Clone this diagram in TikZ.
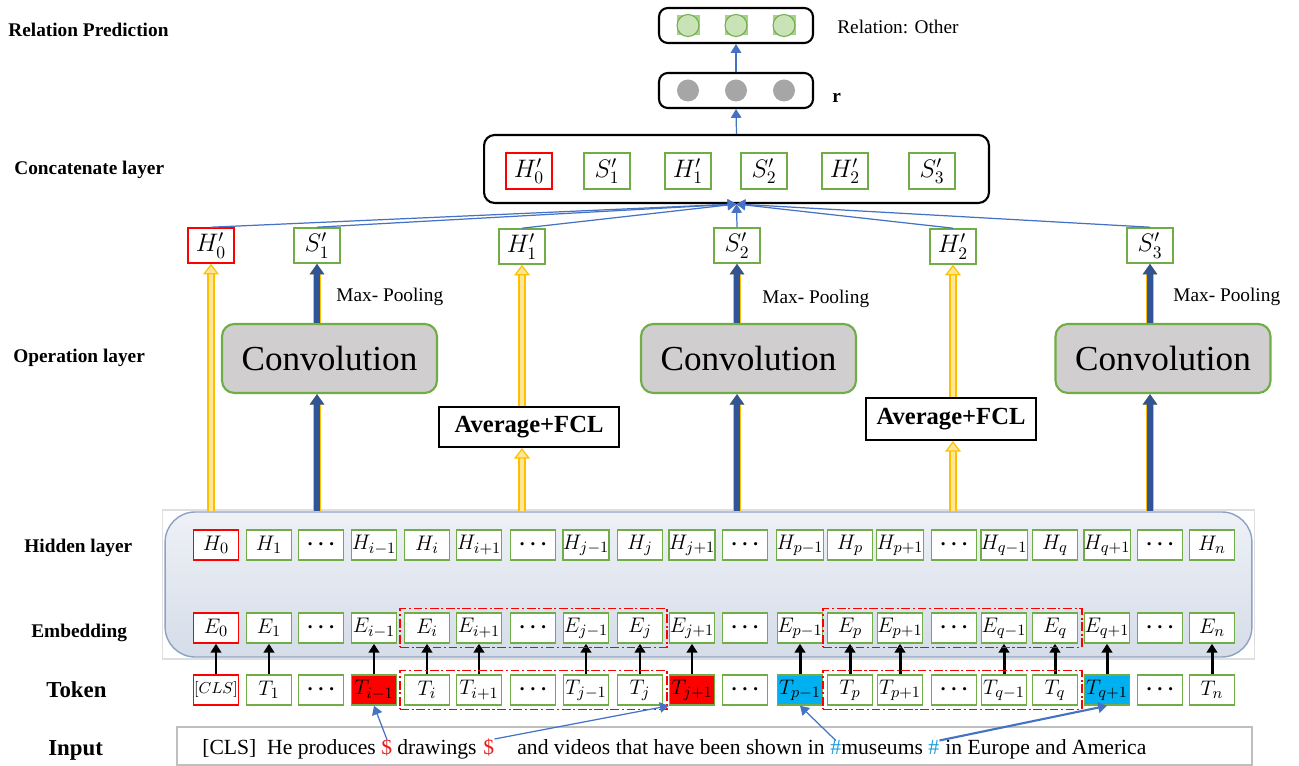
\documentclass[tikz,border=0pt]{standalone}
\usepackage{fontspec}
\setmainfont{Liberation Serif}
\usepackage{bm}
\usetikzlibrary{arrows.meta, positioning, fit, calc}
\definecolor{boxgreen}{HTML}{70AD47}
\definecolor{boxred}{HTML}{FF0000}
\definecolor{tokred}{HTML}{FF0000}
\definecolor{tokcyan}{HTML}{00B0F0}
\definecolor{linkblue}{HTML}{4472C4}
\definecolor{navy}{HTML}{2F5597}
\definecolor{gold}{HTML}{FFC000}
\definecolor{goldsoft}{HTML}{FFE699}
\definecolor{convgray}{HTML}{D0CECE}
\definecolor{paneltop}{HTML}{EEF1F6}
\definecolor{panelbot}{HTML}{D5DDE9}
\definecolor{paneledge}{HTML}{8EA2C4}
\definecolor{dotgray}{HTML}{A6A6A6}
\definecolor{dotgreen}{HTML}{C9E3B6}
\definecolor{sqgreen}{HTML}{A9D18E}
\definecolor{hashblue}{HTML}{1F9BD7}
\definecolor{dollarred}{HTML}{E02020}
\definecolor{inputgray}{HTML}{BFBFBF}

\begin{document}
\begin{tikzpicture}[x=0.02cm, y=-0.02cm,
  cell/.style={draw=boxgreen, line width=0.9pt, fill=white, minimum width=0.9cm,
               minimum height=0.6cm, inner sep=0pt, font=\fontsize{13}{13}\selectfont},
  pbox/.style={cell, minimum width=0.92cm, minimum height=0.72cm, font=\fontsize{14}{14}\selectfont},
  conv/.style={draw=boxgreen, line width=1.2pt, fill=convgray, rounded corners=7pt,
               minimum width=4.3cm, minimum height=1.38cm, font=\fontsize{20}{20}\selectfont},
  avg/.style={draw=black, line width=1.2pt, fill=white, minimum height=0.8cm,
              font=\bfseries\fontsize{14}{14}\selectfont},
  lbl/.style={anchor=west, inner sep=0pt, font=\bfseries\fontsize{11}{13}\selectfont},
  note/.style={anchor=west, inner sep=0pt, font=\fontsize{11}{13}\selectfont},
  word/.style={anchor=base west, inner sep=0pt, font=\fontsize{12.3}{14}\selectfont},
  grp/.style={draw=boxred, line width=0.9pt, dash pattern=on 5pt off 1.5pt on 1.2pt off 1.5pt, inner sep=2pt},
  blk/.style={-{Triangle[length=5pt,width=6pt]}, line width=1.7pt, black},
  link/.style={-{Triangle[length=5pt,width=6pt]}, line width=0.7pt, linkblue},
  barr/.style={-{Triangle[length=6pt,width=8pt]}, line width=3.4pt, navy,
               preaction={draw=gold, line width=4.4pt}},
  yarr/.style={-{Triangle[length=6pt,width=9pt,line width=0.7pt,fill=goldsoft]}, draw=gold,
               line width=0.9pt, double=goldsoft, double distance=2.6pt},
  ball/.style={circle, minimum size=0.44cm, inner sep=0pt}
]
\useasboundingbox (0,0) rectangle (1299,766);

% layer names
\node[lbl] (l1) at (8,30) {Relation Prediction};
\node[lbl] (l2) at (14,170) {Concatenate layer};
\node[lbl] (l3) at (13,358) {Operation layer};
\node[lbl] (l4) at (24,548) {Hidden layer};
\node[lbl] (l5) at (31,633) {Embedding};
\node[lbl, font=\bfseries\fontsize{13}{14}\selectfont] (l6) at (46,690) {Token};
\node[lbl, font=\bfseries\fontsize{13}{14}\selectfont] (l7) at (48,750) {Input};

% prediction
\node[draw, line width=1.2pt, rounded corners=5pt, minimum width=3.08cm, minimum height=0.7cm] (obox) at (736,25.5) {};
\node[draw, line width=1.2pt, rounded corners=5pt, minimum width=3.08cm, minimum height=0.7cm] (rbox) at (736,90.5) {};
\foreach \x [count=\i] in {688,736,784} {
  \node[fill=sqgreen, minimum width=0.46cm, minimum height=0.4cm, inner sep=0pt] (q\i) at (\x,25.5) {};
  \node[ball, draw=boxgreen, fill=dotgreen, line width=0.6pt] (o\i) at (\x,25.5) {};
  \node[ball, fill=dotgray] (g\i) at (\x,90.5) {};
}
\node[note] (rel) at (837,27) {Relation: Other};
\node[note, font=\bfseries\fontsize{11}{13}\selectfont] (rl) at (832,98) {r};
\draw[link] (rbox.north) -- (obox.south);

% concatenate
\node[draw, line width=1.2pt, rounded corners=6pt, minimum width=10.1cm, minimum height=1.36cm] (cat) at (736.5,169) {};
\node[pbox, draw=boxred] (c1) at (529,171) {$H'_0$};
\node[pbox] (c2) at (607,171) {$S'_1$};
\node[pbox] (c3) at (688,171) {$H'_1$};
\node[pbox] (c4) at (764,171) {$S'_2$};
\node[pbox] (c5) at (845,171) {$H'_2$};
\node[pbox] (c6) at (932,171) {$S'_3$};
\draw[link] (cat.north) -- (rbox.south);

% operation
\node[pbox, draw=boxred, minimum height=0.7cm] (H0p) at (211,245.5) {$H'_0$};
\node[pbox, minimum height=0.7cm] (S1p) at (317,245.5) {$S'_1$};
\node[pbox, minimum height=0.7cm] (H1p) at (522,246.5) {$H'_1$};
\node[pbox, minimum height=0.7cm] (S2p) at (737,245.5) {$S'_2$};
\node[pbox, minimum height=0.7cm] (H2p) at (953,246.5) {$H'_2$};
\node[pbox, minimum height=0.7cm] (S3p) at (1150,245.5) {$S'_3$};
\foreach \n in {H0p,S1p,H1p,S2p,H2p,S3p} \draw[link] (\n.north) -- (cat.south);

\node[conv] (cv1) at (329.5,358.5) {Convolution};
\node[conv] (cv2) at (748.5,358.5) {Convolution};
\node[conv] (cv3) at (1163,358.5) {Convolution};
\node[avg, minimum width=3.6cm] (av1) at (529,427) {Average+FCL};
\node[avg, minimum width=3.4cm, minimum height=0.84cm] (av2) at (951,419) {Average+FCL};
\node[note] (mp1) at (336,297) {Max- Pooling};
\node[note] (mp2) at (762,299) {Max- Pooling};
\node[note] (mp3) at (1173,297) {Max- Pooling};

% hidden + embedding panel
\node[draw=gray!25, line width=0.6pt, minimum width=21.84cm, minimum height=2.98cm] (pframe) at (708.5,584.5) {};
\node[draw=paneledge, line width=0.8pt, top color=paneltop, bottom color=panelbot, rounded corners=0.6cm,
      minimum width=21.74cm, minimum height=2.9cm] (panel) at (708.5,584.5) {};

\draw[yarr] (panel.north -| H0p) -- (H0p.south);
\draw[barr] (panel.north -| S1p) -- (cv1.south -| S1p);
\draw[barr] (cv1.north -| S1p) -- (S1p.south);
\draw[yarr] (panel.north -| H1p) -- (av1.south -| H1p);
\draw[yarr] (av1.north -| H1p) -- (H1p.south);
\draw[barr] (panel.north -| S2p) -- (cv2.south -| S2p);
\draw[barr] (cv2.north -| S2p) -- (S2p.south);
\draw[yarr] (panel.north -| H2p) -- (av2.south -| H2p);
\draw[yarr] (av2.north -| H2p) -- (H2p.south);
\draw[barr] (panel.north -| S3p) -- (cv3.south -| S3p);
\draw[barr] (cv3.north -| S3p) -- (S3p.south);

% cells
\node[cell, draw=boxred] (h1) at (216,545) {$H_0$};
\node[cell, draw=boxred] (e1) at (216,628) {$E_0$};
\node[cell, draw=boxred, font=\fontsize{9}{9}\selectfont] (t1) at (216,690) {$[CLS]$};
\draw[blk] (t1) -- (e1);
\foreach \k/\x/\s/\f in {2/269/1/white, 4/374/{i-1}/tokred, 5/427/i/white, 6/479/{i+1}/white,
    8/586/{j-1}/white, 9/640/j/white, 10/692/{j+1}/tokred, 12/800/{p-1}/tokcyan, 13/850/p/white,
    14/900/{p+1}/white, 16/1004/{q-1}/white, 17/1055/q/white, 18/1107/{q+1}/tokcyan, 20/1212/n/white} {
  \node[cell] (h\k) at (\x,545) {$H_{\s}$};
  \node[cell] (e\k) at (\x,628) {$E_{\s}$};
  \node[cell, fill=\f] (t\k) at (\x,690) {$T_{\s}$};
  \draw[blk] (t\k) -- (e\k);
}
\foreach \k/\x in {3/321, 7/533, 11/745, 15/954, 19/1160} {
  \node[cell] (h\k) at (\x,545) {$\bm{\cdots}$};
  \node[cell] (e\k) at (\x,628) {$\bm{\cdots}$};
  \node[cell] (t\k) at (\x,690) {$\bm{\cdots}$};
}
\node[grp, fit=(e5)(e9)] (ge1) {};
\node[grp, fit=(t5)(t9)] (gt1) {};
\node[grp, fit=(e13)(e17)] (ge2) {};
\node[grp, fit=(t13)(t17)] (gt2) {};

% input sentence
\node[draw=inputgray, line width=0.8pt, minimum width=21.5cm, minimum height=0.76cm] (inbox) at (714.5,746) {};
\node[word] (w1) at (202,755) {[CLS]\ \ He produces};
\node[word, text=dollarred] (ds1) at (381,755) {\$};
\node[word] (w2) at (397,755) {drawings};
\node[word, text=dollarred] (ds2) at (483,755) {\$};
\node[word] (w3) at (517,755) {and videos that have been shown in};
\node[word, text=hashblue] (hs1) at (830,755) {\#};
\node[word] (w4) at (841,755) {museums};
\node[word, text=hashblue] (hs2) at (928,755) {\#};
\node[word] (w5) at (945,755) {in Europe and America};

\draw[link] (ds1.north) -- (t4.south);
\draw[link] (ds2.north east) -- (t10.south west);
\draw[link] (hs1.north) -- (t12.south);
\draw[link, line width=1.2pt] (hs2.north east) -- (t18.south);
\end{tikzpicture}
\end{document}
